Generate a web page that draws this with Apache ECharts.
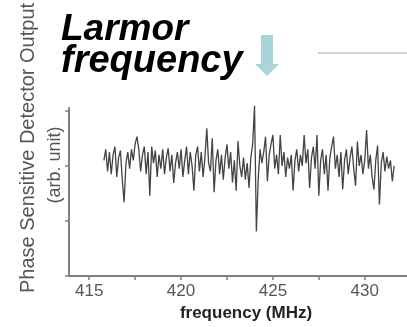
<!DOCTYPE html>
<html><head><meta charset="utf-8">
<script src="https://cdn.jsdelivr.net/npm/echarts@6/dist/echarts.min.js"></script>
<style>html,body{margin:0;padding:0;background:#fff}#c{width:407px;height:327px}</style>
</head><body><div id="c"></div>
<script>
// frequency (MHz)
var freqs = [415.8,415.9,416.0,416.1,416.2,416.3,416.4,416.5,416.6,416.7,416.8,416.9,
417.0,417.1,417.2,417.3,417.4,417.5,417.6,417.7,417.8,417.9,
418.0,418.1,418.2,418.3,418.4,418.5,418.6,418.7,418.8,418.9,
419.0,419.1,419.2,419.3,419.4,419.5,419.6,419.7,419.8,419.9,
420.0,420.1,420.2,420.3,420.4,420.5,420.6,420.7,420.8,420.9,
421.0,421.1,421.2,421.3,421.4,421.5,421.6,421.7,421.8,421.9,
422.0,422.1,422.2,422.3,422.4,422.5,422.6,422.7,422.8,422.9,
423.0,423.1,423.2,423.3,423.4,423.5,423.6,423.7,423.8,423.9,
424.0,424.1,424.2,424.3,424.4,424.5,424.6,424.7,424.8,424.9,
425.0,425.1,425.2,425.3,425.4,425.5,425.6,425.7,425.8,425.9,
426.0,426.1,426.2,426.3,426.4,426.5,426.6,426.7,426.8,426.9,
427.0,427.1,427.2,427.3,427.4,427.5,427.6,427.7,427.8,427.9,
428.0,428.1,428.2,428.3,428.4,428.5,428.6,428.7,428.8,428.9,
429.0,429.1,429.2,429.3,429.4,429.5,429.6,429.7,429.8,429.9,
430.0,430.1,430.2,430.3,430.4,430.5,430.6,430.7,430.8,430.9,
431.0,431.1,431.2,431.3,431.4,431.5,431.6];
// detector output (arb. unit)
var output = [2.10,2.30,1.90,2.25,1.85,2.20,2.35,1.80,2.15,2.28,1.75,1.34,
2.05,2.25,1.95,2.30,2.10,2.40,2.53,2.30,1.90,2.20,
2.35,1.85,2.25,1.46,2.35,2.05,2.28,1.80,2.20,1.95,
2.30,1.85,2.15,2.32,1.90,2.20,1.69,2.05,2.25,1.95,
2.30,1.80,2.10,2.35,1.85,2.25,2.00,1.55,2.20,2.35,
1.90,2.25,1.80,2.15,2.68,2.05,1.90,2.50,1.52,2.10,
2.30,1.85,2.20,1.75,2.15,2.39,1.95,2.25,1.70,2.10,
1.55,2.45,2.00,1.80,2.15,1.75,2.05,1.60,2.15,2.40,
3.09,0.81,1.75,2.30,2.05,2.25,2.53,1.72,2.20,2.40,
2.56,1.95,2.20,1.85,2.56,2.00,2.25,1.80,2.15,1.95,
2.20,1.55,2.10,2.30,1.90,2.20,2.00,2.56,2.05,2.30,
1.60,2.15,2.35,1.95,2.56,1.46,2.10,2.30,1.85,2.20,
1.55,2.15,2.35,2.53,1.95,2.20,1.80,2.25,1.57,2.10,
2.30,1.85,2.15,2.35,1.95,1.64,2.44,2.00,2.20,1.85,
2.10,2.65,1.95,2.20,1.80,1.57,2.10,2.37,1.30,2.05,
2.25,1.90,2.17,1.95,2.10,1.72,2.00];
var xTickLabels = [415,420,425,430];
var xTicks = [415,417.5,420,422.5,425,427.5,430];
var yTicks = [0,1,2,3];

var data = freqs.map(function(f,i){return [f, output[i]];});
var axisCol = '#8a7d74';
var chart = echarts.init(document.getElementById('c'), null, {renderer:'canvas'});
chart.setOption({
  animation:false,
  backgroundColor:'#fff',
  grid:{left:69,right:0,top:108,bottom:45},
  xAxis:{type:'value',min:413.9,max:432.3,
    axisLine:{lineStyle:{color:axisCol,width:2}},
    axisTick:{customValues:xTicks,length:4,lineStyle:{color:axisCol,width:1.5}},
    axisLabel:{customValues:xTickLabels,color:'#555',fontSize:17,margin:7,fontFamily:'Liberation Sans'},
    splitLine:{show:false},
    name:'frequency (MHz)',nameLocation:'middle',nameGap:25,
    nameTextStyle:{color:'#222',fontSize:17,fontWeight:'bold',fontFamily:'Liberation Sans',padding:[0,0,0,16]}
  },
  yAxis:{type:'value',min:0,max:3.05,
    axisLine:{show:true,lineStyle:{color:axisCol,width:2}},
    axisTick:{show:true,customValues:yTicks,length:4,lineStyle:{color:axisCol,width:1.5}},
    axisLabel:{show:false},
    splitLine:{show:false}
  },
  series:[{type:'line',data:data,showSymbol:false,clip:false,
    lineStyle:{color:'#444',width:1.3}}],
  graphic:[
    {type:'text',x:61,y:11,style:{text:'Larmor',font:'italic bold 37px "Liberation Sans"',fill:'#000'}},
    {type:'text',x:61,y:43,style:{text:'frequency',font:'italic bold 38px "Liberation Sans"',fill:'#000'}},
    {type:'polygon',shape:{points:[[261,35],[273,35],[273,64],[279,64],[267,76],[255,64],[261,64]]},style:{fill:'#a9d5da'}},
    {type:'line',shape:{x1:318,y1:53,x2:407,y2:53},style:{stroke:'#cdbfbb',lineWidth:1.5}},
    {type:'text',x:28,y:148,rotation:Math.PI/2,style:{text:'Phase Sensitive Detector Output',font:'20px "Liberation Sans"',fill:'#555',align:'center',verticalAlign:'middle'}},
    {type:'text',x:55,y:165,rotation:Math.PI/2,style:{text:'(arb. unit)',font:'18px "Liberation Sans"',fill:'#555',align:'center',verticalAlign:'middle'}}
  ]
});
</script></body></html>
